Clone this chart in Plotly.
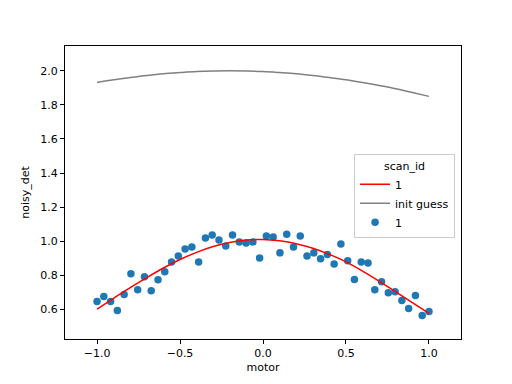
import numpy as np
import plotly.graph_objects as go

# measured data (50 points)
motor = list(np.linspace(-1.0, 1.0, 50))
noisy_det = [0.645, 0.674, 0.645, 0.592, 0.686, 0.808, 0.715, 0.790, 0.709, 0.773,
             0.820, 0.878, 0.913, 0.954, 0.965, 0.878, 1.018, 1.036, 1.006, 0.971,
             1.036, 0.995, 0.989, 0.995, 0.901, 1.030, 1.024, 0.931, 1.041, 0.965,
             1.030, 0.913, 0.931, 0.896, 0.921, 0.866, 0.983, 0.884, 0.775, 0.878,
             0.872, 0.715, 0.761, 0.697, 0.703, 0.651, 0.604, 0.680, 0.563, 0.586]

# curves
curve_x = [-1.0, -0.9, -0.8, -0.7, -0.6, -0.5, -0.4, -0.3, -0.2, -0.1, 0.0,
           0.1, 0.2, 0.3, 0.4, 0.5, 0.6, 0.7, 0.8, 0.9, 1.0]
fit_y = [0.600, 0.664, 0.727, 0.786, 0.842, 0.892, 0.934, 0.968, 0.992, 1.006, 1.010,
         1.002, 0.985, 0.958, 0.922, 0.878, 0.824, 0.764, 0.702, 0.639, 0.575]
guess_y = [1.932, 1.948, 1.961, 1.973, 1.983, 1.990, 1.996, 1.999, 2.000, 1.999, 1.996,
           1.990, 1.983, 1.973, 1.961, 1.948, 1.932, 1.914, 1.895, 1.873, 1.850]

fig = go.Figure()
fig.add_trace(go.Scatter(x=motor, y=noisy_det, mode="markers", name="1",
                         marker=dict(color="#1f77b4", size=7.5), legendrank=3))
fig.add_trace(go.Scatter(x=curve_x, y=fit_y, mode="lines", name="1",
                         line=dict(color="red", width=1.5, shape="spline"), legendrank=1))
fig.add_trace(go.Scatter(x=curve_x, y=guess_y, mode="lines", name="init guess",
                         line=dict(color="gray", width=1.5, shape="spline"), legendrank=2))

axis_common = dict(showgrid=False, zeroline=False, showline=True, linecolor="black",
                   linewidth=1, mirror=True, ticks="outside", ticklen=4, tickcolor="black",
                   tickfont=dict(size=11, color="black"), tickformat=".1f")
fig.update_xaxes(range=[-1.193, 1.193], tickvals=[-1.0, -0.5, 0.0, 0.5, 1.0],
                 title=dict(text="motor", font=dict(size=11, color="black"), standoff=4),
                 **axis_common)
fig.update_yaxes(range=[0.425, 2.146], tickvals=[0.6, 0.8, 1.0, 1.2, 1.4, 1.6, 1.8, 2.0],
                 title=dict(text="noisy_det", font=dict(size=11, color="black"), standoff=8),
                 **axis_common)

fig.update_layout(
    width=512, height=384,
    margin=dict(l=65, r=51, t=46, b=43),
    paper_bgcolor="white", plot_bgcolor="white",
    font=dict(family="DejaVu Sans", size=11, color="black"),
    legend=dict(x=0.985, y=0.63, xanchor="right", yanchor="top",
                bgcolor="rgba(255,255,255,0.8)", bordercolor="#cccccc", borderwidth=1,
                title=dict(text="scan_id", side="top center", font=dict(size=11)),
                font=dict(size=11), tracegroupgap=0, itemwidth=30),
    showlegend=True,
)

fig.write_html("out.html", config={"displayModeBar": False},
               post_script="document.body.style.margin='0';")
